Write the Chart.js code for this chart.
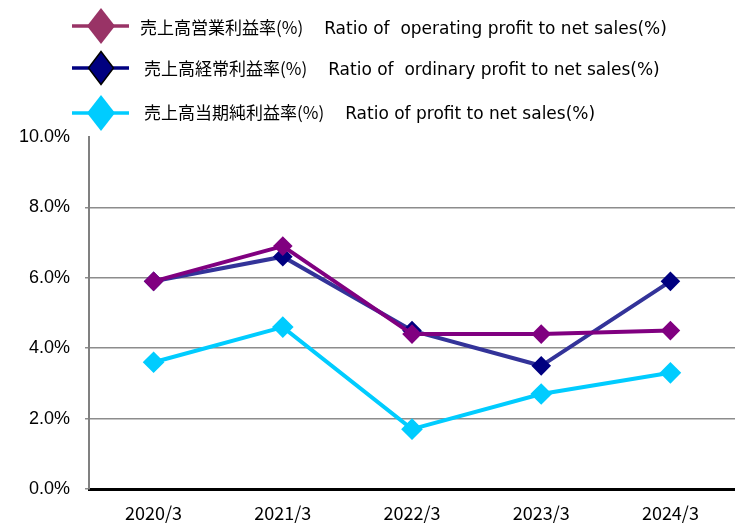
<!DOCTYPE html>
<html><head><meta charset="utf-8">
<script src="https://cdn.jsdelivr.net/npm/chart.js@4"></script>
<style>
html,body{margin:0;padding:0;background:#fff;}
#wrap{position:relative;width:735px;height:524px;overflow:hidden;}
canvas{position:absolute;left:0;top:0;}
.leg{position:absolute;color:#000;white-space:pre;line-height:22px;}
.leg .jp{font-family:"Noto Sans CJK JP",sans-serif;font-size:17px;}
.leg .en{font-family:"DejaVu Sans",sans-serif;font-size:17px;margin-left:21px;}
.sym{position:absolute;}
</style></head><body>
<div id="wrap">
<canvas id="c" width="735" height="524"></canvas>
</div>
<script>
const categories = ["2020/3","2021/3","2022/3","2023/3","2024/3"];
const operatingRatio = [5.9, 6.9, 4.4, 4.4, 4.5];
const ordinaryRatio = [5.9, 6.6, 4.5, 3.5, 5.9];
const netRatio = [3.6, 4.6, 1.7, 2.7, 3.3];
const yTicks = [0, 2, 4, 6, 8, 10];
const legendJp = ["売上高営業利益率(%)", "売上高経常利益率(%)", "売上高当期純利益率(%)"];
const legendEn = ["Ratio of  operating profit to net sales(%)", "Ratio of  ordinary profit to net sales(%)", "Ratio of profit to net sales(%)"];

const seriesStyle = [
  {line:"#800080", point:"#800080", legLine:"#993366", legPoint:"#993366", legStroke:"none", hw:14, hh:18, r:7, sy:26, ty:16, tx:140},
  {line:"#333399", point:"#000080", legLine:"#000080", legPoint:"#000080", legStroke:"#000", hw:12.5, hh:16.5, r:7, sy:68, ty:57, tx:144},
  {line:"#00CCFF", point:"#00CCFF", legLine:"#00CCFF", legPoint:"#00CCFF", legStroke:"none", hw:14, hh:18, r:8, sy:113, ty:101, tx:144}
];
const seriesData = [operatingRatio, ordinaryRatio, netRatio];

const wrap = document.getElementById('wrap');
seriesStyle.forEach((s,i)=>{
  const svgNS="http://www.w3.org/2000/svg";
  const svg=document.createElementNS(svgNS,"svg");
  svg.setAttribute("width","58");svg.setAttribute("height","40");
  svg.setAttribute("class","sym");
  svg.style.left="72px"; svg.style.top=(s.sy-20)+"px";
  const ln=document.createElementNS(svgNS,"line");
  ln.setAttribute("x1","0");ln.setAttribute("x2","57");ln.setAttribute("y1","20");ln.setAttribute("y2","20");
  ln.setAttribute("stroke",s.legLine);ln.setAttribute("stroke-width","3.5");
  svg.appendChild(ln);
  const p=document.createElementNS(svgNS,"polygon");
  const cx=29, cy=20;
  p.setAttribute("points",`${cx},${cy-s.hh} ${cx+s.hw},${cy} ${cx},${cy+s.hh} ${cx-s.hw},${cy}`);
  p.setAttribute("fill",s.legPoint);
  if(s.legStroke!=="none"){p.setAttribute("stroke",s.legStroke);p.setAttribute("stroke-width","1.5");}
  svg.appendChild(p);
  wrap.appendChild(svg);
  const d=document.createElement('div');
  d.className='leg';
  const a=document.createElement('span'); a.className='jp'; a.textContent=legendJp[i];
  const b=document.createElement('span'); b.className='en'; b.textContent=legendEn[i];
  d.appendChild(a); d.appendChild(b);
  d.style.left=s.tx+"px"; d.style.top=s.ty+"px";
  wrap.appendChild(d);
});

new Chart(document.getElementById('c'), {
  type:'line',
  data:{
    labels:categories,
    datasets: seriesData.map((d,i)=>({
      label:legendJp[i]+' '+legendEn[i],
      data:d,
      borderColor:seriesStyle[i].line,
      backgroundColor:seriesStyle[i].point,
      pointBackgroundColor:seriesStyle[i].point,
      pointBorderColor:seriesStyle[i].point,
      pointStyle:'rectRot',
      pointRadius:seriesStyle[i].r,
      borderWidth:4,
      tension:0,
      clip:false
    }))
  },
  options:{
    responsive:false,
    animation:false,
    layout:{autoPadding:false, padding:{top:137,left:0,right:0,bottom:0}},
    plugins:{legend:{display:false},tooltip:{enabled:false}},
    scales:{
      x:{
        offset:true,
        grid:{display:false, drawTicks:false},
        border:{color:'#000',width:3},
        ticks:{color:'#000',padding:13,font:{family:'"Noto Sans CJK JP"',size:18}},
        afterFit(s){s.height=35;}
      },
      y:{
        min:0,max:10,
        afterBuildTicks(s){s.ticks=yTicks.map(v=>({value:v}));},
        grid:{color:(ctx)=> (ctx.tick && ctx.tick.value===10) ? 'rgba(0,0,0,0)' : '#8c8c8c', lineWidth:1.5, tickLength:4},
        border:{color:'#808080',width:2},
        ticks:{color:'#000',padding:15,font:{family:'"Liberation Sans",Arial',size:18},
          callback:(v)=>v.toFixed(1)+'%'},
        afterFit(s){s.width=89;}
      }
    }
  }
});
</script>
</body></html>
